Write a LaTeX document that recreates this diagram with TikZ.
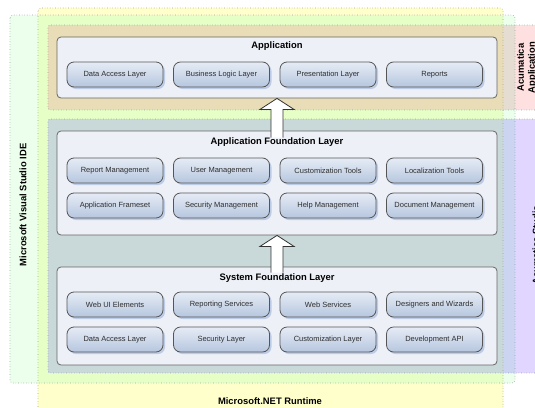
\documentclass[tikz,border=0pt]{standalone}
\usepackage{fontspec}
\setmainfont{Liberation Sans}
\usetikzlibrary{calc,shadows}

\definecolor{netyellow}{HTML}{FFFFCC}
\definecolor{idegreen}{HTML}{ECFFEC}
\definecolor{idelime}{HTML}{E6FFC6}
\definecolor{apppink}{HTML}{FFE0E0}
\definecolor{apptan}{HTML}{E8DDB6}
\definecolor{pinkgreen}{HTML}{E6DDD2}
\definecolor{studiopurple}{HTML}{E0D6FF}
\definecolor{studiogray}{HTML}{C9D8D8}
\definecolor{purplegreen}{HTML}{CBD5F2}
\definecolor{panelfill}{HTML}{EEF0F8}
\definecolor{boxtop}{HTML}{E6ECF6}
\definecolor{boxbottom}{HTML}{B6C6DE}
\definecolor{boxline}{HTML}{555555}
\definecolor{boxtext}{HTML}{2E2E2E}
\definecolor{shadowblue}{HTML}{BCCCE6}

\tikzset{
  region/.style={draw=gray!75, dotted, line width=0.6pt, rounded corners=3pt},
  panel/.style={draw=gray!80!black, fill=panelfill, rounded corners=4pt,
    minimum width=440pt, line width=0.8pt},
  layerbox/.style={draw=boxline, rounded corners=7pt, top color=boxtop,
    bottom color=boxbottom, minimum width=96pt, minimum height=25pt,
    line width=0.8pt, text=boxtext, inner sep=1pt,
    font=\fontsize{7.5}{9}\selectfont,
    drop shadow={shadow xshift=2pt, shadow yshift=-2pt, fill=shadowblue, opacity=1}},
  title/.style={font=\fontsize{9.4}{11}\selectfont\bfseries},
  hollow/.style={draw=gray!40!black, fill=white, line width=0.8pt}
}

\begin{document}
\begin{tikzpicture}[x=1pt,y=-1pt]
  \useasboundingbox (0,0) rectangle (535,407);

  % coloured areas
  \fill[netyellow, rounded corners=3pt] (38,8) rectangle (503,420);
  \fill[idegreen, rounded corners=3pt] (10,15) rectangle (515,383);
  \fill[idelime] (38,15) rectangle (503,383);
  \fill[apppink] (48,25) rectangle (560,110);
  \fill[apptan] (48,25) rectangle (503,110);
  \fill[pinkgreen] (503,25) rectangle (515,110);
  \fill[studiopurple] (48,119) rectangle (560,373);
  \fill[studiogray] (48,119) rectangle (503,373);
  \fill[purplegreen] (503,119) rectangle (515,373);
  \draw[region] (38,8) rectangle (503,420);
  \draw[region] (10,15) rectangle (515,383);
  \draw[region] (48,25) rectangle (560,110);
  \draw[region] (48,119) rectangle (560,373);

  \node[title, rotate=90] (idelabel) at (23,205) {Microsoft Visual Studio IDE};
  \node[title, rotate=90, align=center] (applabel) at (527,67.5) {Acumatica\\Application};
  \node[title, rotate=90] (studiolabel) at (536,245) {Acumatica Studio};
  \node[title] (netlabel) at (270,401) {Microsoft.NET Runtime};

  % application
  \node[panel, minimum height=61pt] (app) at (277,67.5) {};
  \node[title, below=2pt] (apptitle) at (app.north) {Application};
  \node[layerbox] (appdal) at (115,74.5) {Data Access Layer};
  \node[layerbox] (appbll) at (221.5,74.5) {Business Logic Layer};
  \node[layerbox] (apppl) at (328,74.5) {Presentation Layer};
  \node[layerbox] (apprep) at (434.5,74.5) {Reports};

  % application foundation layer
  \node[panel, minimum height=104pt] (afl) at (277,183) {};
  \node[title, below=4pt] (afltitle) at (afl.north) {Application Foundation Layer};
  \node[layerbox] (aflrep) at (115,170.5) {Report Management};
  \node[layerbox] (afluser) at (221.5,170.5) {User Management};
  \node[layerbox] (aflcust) at (328,170.5) {Customization Tools};
  \node[layerbox] (afllocal) at (434.5,170.5) {Localization Tools};
  \node[layerbox] (aflframe) at (115,205.5) {Application Frameset};
  \node[layerbox] (aflsec) at (221.5,205.5) {Security Management};
  \node[layerbox] (aflhelp) at (328,205.5) {Help Management};
  \node[layerbox] (afldoc) at (434.5,205.5) {Document Management};

  % system foundation layer
  \node[panel, minimum height=98pt] (sfl) at (277,316) {};
  \node[title, below=4pt] (sfltitle) at (sfl.north) {System Foundation Layer};
  \node[layerbox] (sflweb) at (115,304.5) {Web UI Elements};
  \node[layerbox] (sflrep) at (221.5,304.5) {Reporting Services};
  \node[layerbox] (sflws) at (328,304.5) {Web Services};
  \node[layerbox] (sfldes) at (434.5,304.5) {Designers and Wizards};
  \node[layerbox] (sfldal) at (115,339.5) {Data Access Layer};
  \node[layerbox] (sflsec) at (221.5,339.5) {Security Layer};
  \node[layerbox] (sflcust) at (328,339.5) {Customization Layer};
  \node[layerbox] (sflapi) at (434.5,339.5) {Development API};

  % up arrows
  \filldraw[hollow] ($(afl.north)+(-6,7)$) -- ($(app.south)+(-6,11)$)
    -- ($(app.south)+(-17,11)$) -- (app.south) -- ($(app.south)+(17,11)$)
    -- ($(app.south)+(6,11)$) -- ($(afl.north)+(6,7)$);
  \filldraw[hollow] ($(sfl.north)+(-6,6)$) -- ($(afl.south)+(-6,11)$)
    -- ($(afl.south)+(-17,11)$) -- (afl.south) -- ($(afl.south)+(17,11)$)
    -- ($(afl.south)+(6,11)$) -- ($(sfl.north)+(6,6)$);
\end{tikzpicture}
\end{document}
